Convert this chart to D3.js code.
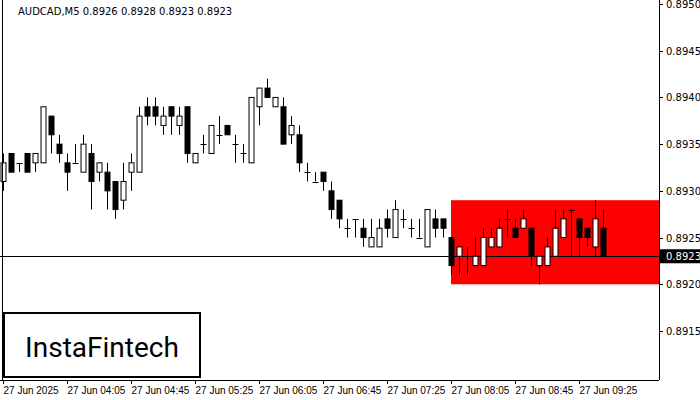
<!DOCTYPE html><html><head><meta charset="utf-8">
<script src="https://cdn.jsdelivr.net/npm/d3@7"></script>
<style>body{margin:0;background:#fff}</style></head><body>
<svg id="c" width="700" height="400"></svg>
<script>
const opens =[.8931,.8934,.8933,.8934,.8933,.8933,.8938,.8935,.8933,.8933,.8932,.8934,.8932,.8932,.8931,.8929,.8932,.8932,.8939,.8939,.8937,.8939,.8937,.8939,.8933,.8935,.8934,.8936,.8937,.8935,.8934,.8933,.8939,.8941,.8939,.8939,.8936,.8936,.8932,.8931,.8932,.8930,.8929,.8926,.8927,.8926,.8924,.8924,.8927,.8925,.8927,.8926,.8925,.8924,.8927,.8927,.8925,.8923,.8923,.8922,.8922,.8924,.8924,.8927,.8926,.8926,.8926,.8922,.8922,.8923,.8925,.8928,.8927,.8926,.8924,.8926];
const highs =[.8934,.8934,.8933,.8934,.8933,.8939,.8938,.8936,.8934,.8935,.8936,.8935,.8933,.8933,.8931,.8933,.8934,.8939,.8940,.8940,.8939,.8939,.8939,.8939,.8934,.8936,.8937,.8938,.8937,.8936,.8935,.8940,.8941,.8942,.8940,.8940,.8938,.8937,.8933,.8932,.8932,.8931,.8929,.8927,.8927,.8927,.8927,.8927,.8928,.8929,.8928,.8927,.8927,.8928,.8928,.8927,.8925,.8924,.8924,.8925,.8926,.8926,.8927,.8928,.8927,.8928,.8926,.8923,.8925,.8928,.8928,.8928,.8927,.8926,.8929,.8928];
const lows  =[.8930,.8932,.8932,.8932,.8932,.8933,.8934,.8933,.8930,.8933,.8932,.8928,.8931,.8928,.8927,.8928,.8930,.8932,.8937,.8937,.8936,.8936,.8936,.8933,.8933,.8934,.8934,.8935,.8936,.8933,.8933,.8933,.8937,.8940,.8939,.8935,.8935,.8932,.8931,.8931,.8930,.8927,.8926,.8925,.8925,.8924,.8924,.8924,.8925,.8925,.8926,.8925,.8925,.8924,.8925,.8925,.8921,.8921,.8921,.8922,.8922,.8924,.8924,.8925,.8925,.8926,.8922,.8920,.8922,.8923,.8925,.8923,.8923,.8924,.8923,.8923];
const closes=[.8933,.8932,.8933,.8932,.8934,.8939,.8936,.8934,.8932,.8933,.8935,.8931,.8933,.8930,.8928,.8931,.8933,.8938,.8938,.8938,.8938,.8938,.8938,.8934,.8934,.8935,.8937,.8936,.8936,.8935,.8934,.8940,.8941,.8940,.8940,.8935,.8937,.8933,.8932,.8931,.8931,.8928,.8927,.8926,.8927,.8925,.8925,.8926,.8926,.8928,.8927,.8926,.8925,.8928,.8926,.8926,.8922,.8924,.8923,.8923,.8925,.8925,.8926,.8927,.8925,.8927,.8923,.8923,.8924,.8926,.8927,.8928,.8925,.8925,.8927,.8923];
const priceTicks=[.8915,.8920,.8925,.8930,.8935,.8940,.8945,.8950];
const timeLabels=["27 Jun 2025","27 Jun 04:05","27 Jun 04:45","27 Jun 05:25","27 Jun 06:05","27 Jun 06:45","27 Jun 07:25","27 Jun 08:05","27 Jun 08:45","27 Jun 09:25"];
const current=.8923, zoneHigh=.8929, zoneLow=.8920, zoneStart=56;
const title="AUDCAD,M5  0.8926 0.8928 0.8923 0.8923";

const DV="'DejaVu Sans',sans-serif", LS="'Liberation Sans',Arial,sans-serif";
const svg=d3.select("#c");
const W=659,B=380;
const y=d3.scaleLinear().domain([.8915,.8950]).range([331,4]);
const x=d3.scaleLinear().domain([0,1]).range([3,11]);
svg.append("rect").attr("x",x(zoneStart)).attr("y",y(zoneHigh)).attr("width",W-x(zoneStart)).attr("height",y(zoneLow)-y(zoneHigh)).attr("fill","#ff0000");
svg.append("line").attr("x1",0).attr("x2",W).attr("y1",Math.round(y(current))+.5).attr("y2",Math.round(y(current))+.5).attr("stroke","#000");
const g=svg.append("g");
opens.forEach((o,i)=>{
  const cx=Math.round(x(i))+.5, up=closes[i]>=o;
  g.append("line").attr("x1",cx).attr("x2",cx).attr("y1",y(highs[i])).attr("y2",y(lows[i])).attr("stroke","#000");
  const t=y(Math.max(o,closes[i])), b=y(Math.min(o,closes[i]));
  if(b-t<1) g.append("line").attr("x1",cx-3).attr("x2",cx+3).attr("y1",Math.round(t)+.5).attr("y2",Math.round(t)+.5).attr("stroke","#000");
  else g.append("rect").attr("x",cx-2.5).attr("y",t).attr("width",5).attr("height",b-t).attr("fill",up?"#fff":"#000").attr("stroke","#000");
});
svg.append("line").attr("x1",W+.5).attr("x2",W+.5).attr("y1",0).attr("y2",B).attr("stroke","#000");
svg.append("line").attr("x1",0).attr("x2",W).attr("y1",B+.5).attr("y2",B+.5).attr("stroke","#000");
svg.append("line").attr("x1",2.5).attr("x2",2.5).attr("y1",0).attr("y2",B).attr("stroke","#000");
priceTicks.forEach(p=>{
  svg.append("line").attr("x1",W).attr("x2",W+4).attr("y1",Math.round(y(p))+.5).attr("y2",Math.round(y(p))+.5).attr("stroke","#000");
  svg.append("text").attr("x",666).attr("y",y(p)+4).style("font-family",DV).style("font-size","10px").text(p.toFixed(4));
});
svg.append("rect").attr("x",660).attr("y",y(current)-7).attr("width",40).attr("height",14).attr("fill","#000");
svg.append("text").attr("x",666).attr("y",y(current)+4).style("font-family",DV).style("font-size","10px").attr("fill","#fff").text(current.toFixed(4));
timeLabels.forEach((t,i)=>{
  const tx=Math.round(x(i*8))+.5;
  svg.append("line").attr("x1",tx).attr("x2",tx).attr("y1",B).attr("y2",B+4).attr("stroke","#000");
  svg.append("text").attr("x",tx).attr("y",394).style("font-family",LS).style("font-size","10px").text(t);
});
svg.append("text").attr("x",18).attr("y",15).style("font-family",DV).style("font-size","10px").text(title);
svg.append("rect").attr("x",4).attr("y",313).attr("width",196).attr("height",64).attr("fill","#fff").attr("stroke","#000").attr("stroke-width",2);
svg.append("text").attr("x",102).attr("y",357).attr("text-anchor","middle").style("font-family","Roboto,sans-serif").style("font-size","28px").text("InstaFintech");
</script></body></html>
